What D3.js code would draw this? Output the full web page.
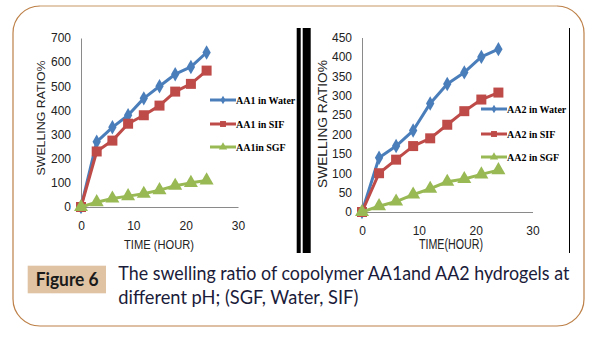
<!DOCTYPE html>
<html>
<head>
<meta charset="utf-8">
<script src="https://cdn.jsdelivr.net/npm/d3@7"></script>
<style>
  body { margin: 0; background: #fff; }
  svg { display: block; }
</style>
</head>
<body>
<div id="container"></div>
<script>
// sampling times (hours), shared by both panels
let hours = [0, 3, 6, 9, 12, 15, 18, 21, 24];

// AA1 swelling ratio (%)
let aa1Water = [0, 270, 330, 380, 450, 500, 550, 580, 640];
let aa1SIF   = [0, 230, 275, 345, 380, 420, 478, 510, 565];
let aa1SGF   = [0, 20, 35, 45, 55, 70, 88, 100, 110];

// AA2 swelling ratio (%)
let aa2Water = [0, 140, 170, 210, 280, 330, 360, 400, 420];
let aa2SIF   = [0, 100, 135, 170, 190, 225, 260, 290, 308];
let aa2SGF   = [0, 15, 27, 45, 60, 78, 85, 97, 108];

let xTicks = [0, 10, 20, 30];
let aa1YTicks = [0, 100, 200, 300, 400, 500, 600, 700];
let aa2YTicks = [0, 50, 100, 150, 200, 250, 300, 350, 400, 450];

let aa1Names = ["AA1 in Water", "AA1 in SIF", "AA1in SGF"];
let aa2Names = ["AA2 in Water", "AA2 in SIF", "AA2 in SGF"];

let colors = ["#4a7ebb", "#be4b48", "#98b954"];
let shapes = [d3.symbolDiamond, d3.symbolSquare, d3.symbolTriangle];
let sizes = [60, 100, 85];

let width = 608, height = 341;

let svg = d3.select("div#container").append("svg")
  .attr("width", width)
  .attr("height", height);

svg.append("rect").attr("width", width).attr("height", height).attr("fill", "#fff");

// rounded frame
svg.append("rect")
  .attr("x", 13).attr("y", 6)
  .attr("width", 571).attr("height", 320)
  .attr("rx", 27).attr("ry", 27)
  .attr("fill", "none")
  .attr("stroke", "#bd8048")
  .attr("stroke-width", 1.2);
// lighter top edge
svg.append("line")
  .attr("x1", 40).attr("x2", 557).attr("y1", 6).attr("y2", 6)
  .attr("stroke", "#e3cbb2").attr("stroke-width", 2);

// separators between panels
svg.append("rect").attr("x", 296.7).attr("y", 28).attr("width", 4).attr("height", 225).attr("fill", "#000");
svg.append("rect").attr("x", 302.7).attr("y", 28).attr("width", 8).attr("height", 225).attr("fill", "#000");
svg.append("line").attr("x1", 569.5).attr("x2", 569.5).attr("y1", 28).attr("y2", 253)
  .attr("stroke", "#000").attr("stroke-width", 1);

function drawPanel(opt) {
  let xScale = d3.scaleLinear().domain([0, 30]).range([opt.x0, opt.x1]);
  let yScale = d3.scaleLinear().domain([0, opt.yMax]).range([opt.y0, opt.y1]);
  let g = svg.append("g");

  // axes
  let xAxis = g.append("g")
    .attr("transform", "translate(0," + opt.y0 + ")")
    .call(d3.axisBottom(xScale).tickValues(xTicks).tickSize(0).tickPadding(opt.xPad));
  let yAxis = g.append("g")
    .attr("transform", "translate(" + opt.x0 + ",0)")
    .call(d3.axisLeft(yScale).tickValues(opt.yTicks).tickSize(0).tickPadding(10));
  [xAxis, yAxis].forEach(function (a) {
    a.select(".domain").attr("stroke", "#8a8a8a").attr("stroke-width", 1);
    a.selectAll("text")
      .attr("fill", "#222")
      .style("font-family", "'Liberation Sans', Arial, sans-serif")
      .style("font-size", opt.tickSize + "px");
  });

  // series
  opt.series.forEach(function (vals, i) {
    let pts = hours.map((h, k) => [h, vals[k]]);
    let line = d3.line().x(d => xScale(d[0])).y(d => yScale(d[1]));
    g.append("path")
      .attr("d", line(pts))
      .attr("fill", "none")
      .attr("stroke", colors[i])
      .attr("stroke-width", 3)
      .attr("stroke-linejoin", "round");
    g.selectAll(null).data(pts).enter().append("path")
      .attr("d", d3.symbol().type(shapes[i]).size(sizes[i]))
      .attr("transform", d => "translate(" + xScale(d[0]) + "," + yScale(d[1]) + ")")
      .attr("fill", colors[i]);
  });

  // axis titles
  g.append("text")
    .attr("transform", "translate(" + opt.yTitleX + "," + opt.yTitleY + ") rotate(-90)")
    .attr("text-anchor", "middle")
    .attr("textLength", opt.yTitleLen)
    .attr("lengthAdjust", "spacingAndGlyphs")
    .style("font-family", "'Liberation Sans', Arial, sans-serif")
    .style("font-size", opt.titleSize + "px")
    .attr("fill", "#222")
    .text("SWELLING RATIO%");
  g.append("text")
    .attr("x", opt.xTitleX).attr("y", 249)
    .attr("text-anchor", "middle")
    .attr("textLength", opt.xTitleLen)
    .attr("lengthAdjust", "spacingAndGlyphs")
    .style("font-family", "'Liberation Sans', Arial, sans-serif")
    .style("font-size", opt.titleSize + 1 + "px")
    .attr("fill", "#222")
    .text(opt.xTitle);

  // legend
  opt.names.forEach(function (name, i) {
    let ly = opt.legY[i];
    g.append("line")
      .attr("x1", opt.legX).attr("x2", opt.legX + 26)
      .attr("y1", ly).attr("y2", ly)
      .attr("stroke", colors[i]).attr("stroke-width", 3);
    g.append("path")
      .attr("d", d3.symbol().type(shapes[i]).size(sizes[i] * 0.35))
      .attr("transform", "translate(" + (opt.legX + 13) + "," + ly + ")")
      .attr("fill", colors[i]);
    g.append("text")
      .attr("x", opt.legX + 26).attr("y", ly + 3.5)
      .style("font-family", "'Liberation Serif', 'Times New Roman', serif")
      .style("font-weight", "bold")
      .style("font-size", "10px")
      .attr("fill", "#000")
      .text(name);
  });
}

drawPanel({
  x0: 81, x1: 238, y0: 207, y1: 38, yMax: 700, yTicks: aa1YTicks,
  series: [aa1Water, aa1SIF, aa1SGF], names: aa1Names,
  tickSize: 12, xPad: 14, titleSize: 11.5,
  yTitleX: 45, yTitleY: 118, yTitleLen: 115,
  xTitle: "TIME (HOUR)", xTitleX: 159, xTitleLen: 70,
  legX: 210, legY: [100, 124, 147]
});

drawPanel({
  x0: 362, x1: 532.5, y0: 212, y1: 37.5, yMax: 450, yTicks: aa2YTicks,
  series: [aa2Water, aa2SIF, aa2SGF], names: aa2Names,
  tickSize: 12, xPad: 14, titleSize: 13,
  yTitleX: 327, yTitleY: 124, yTitleLen: 128,
  xTitle: "TIME(HOUR)", xTitleX: 451, xTitleLen: 64,
  legX: 481, legY: [109, 134, 157]
});

// caption
svg.append("rect")
  .attr("x", 27.7).attr("y", 265.7)
  .attr("width", 78.3).attr("height", 27.6)
  .attr("fill", "#dfc3a3");
svg.append("text")
  .attr("x", 35.7).attr("y", 286)
  .attr("textLength", 63)
  .attr("lengthAdjust", "spacingAndGlyphs")
  .style("font-family", "Lato, 'Open Sans', sans-serif")
  .style("font-weight", "bold")
  .style("font-size", "18px")
  .attr("fill", "#1a1a1a")
  .text("Figure 6");
svg.append("text")
  .attr("x", 118.3).attr("y", 280)
  .attr("textLength", 451)
  .attr("lengthAdjust", "spacingAndGlyphs")
  .style("font-family", "Lato, 'Open Sans', sans-serif")
  .style("font-size", "18.5px")
  .attr("fill", "#1b1b3a")
  .text("The swelling ratio of copolymer AA1and AA2 hydrogels at");
svg.append("text")
  .attr("x", 118.3).attr("y", 304)
  .attr("textLength", 240)
  .attr("lengthAdjust", "spacingAndGlyphs")
  .style("font-family", "Lato, 'Open Sans', sans-serif")
  .style("font-size", "18.5px")
  .attr("fill", "#1b1b3a")
  .text("different pH; (SGF, Water, SIF)");
</script>
</body>
</html>
